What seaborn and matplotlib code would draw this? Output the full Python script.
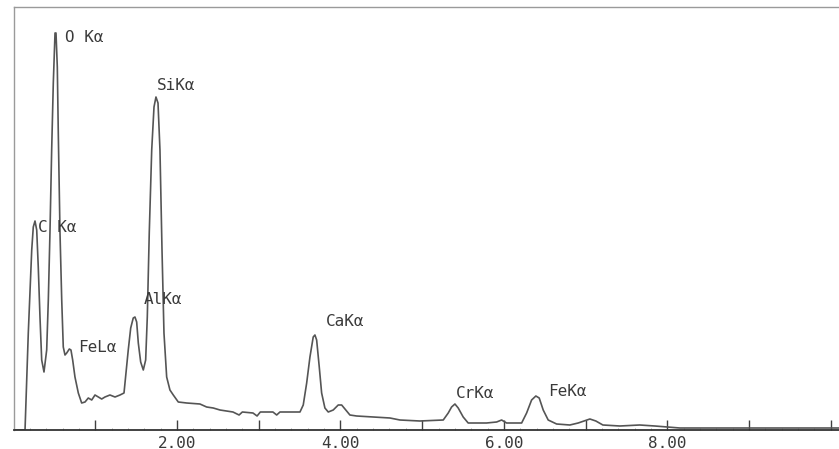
import numpy as np
import pandas as pd
import matplotlib
matplotlib.use("Agg")
import matplotlib.pyplot as plt
import seaborn as sns
from matplotlib.ticker import FixedLocator, FixedFormatter, MultipleLocator

# ---- data ----
energy_kev = [0.000, 0.104, 0.141, 0.181, 0.223, 0.242, 0.263, 0.284, 0.303, 0.324,
              0.345, 0.373, 0.406, 0.426, 0.446, 0.467, 0.487, 0.508, 0.520, 0.536,
              0.548, 0.569, 0.590, 0.609, 0.630, 0.651, 0.683, 0.703, 0.724, 0.752,
              0.793, 0.834, 0.875, 0.915, 0.957, 0.997, 1.037, 1.079, 1.119, 1.180,
              1.242, 1.303, 1.352, 1.376, 1.404, 1.434, 1.465, 1.486, 1.507, 1.527,
              1.556, 1.588, 1.617, 1.637, 1.661, 1.691, 1.719, 1.743, 1.768, 1.792,
              1.817, 1.841, 1.874, 1.914, 1.955, 2.016, 2.119, 2.281, 2.363, 2.444,
              2.526, 2.685, 2.760, 2.800, 2.930, 2.980, 3.020, 3.174, 3.220, 3.260,
              3.505, 3.545, 3.587, 3.627, 3.667, 3.688, 3.709, 3.741, 3.770, 3.810,
              3.851, 3.912, 3.973, 4.015, 4.055, 4.116, 4.198, 4.401, 4.606, 4.728,
              4.972, 5.258, 5.319, 5.360, 5.401, 5.441, 5.502, 5.563, 5.666, 5.788,
              5.911, 5.972, 6.033, 6.217, 6.278, 6.339, 6.391, 6.432, 6.481, 6.542,
              6.645, 6.807, 6.909, 7.052, 7.125, 7.211, 7.419, 7.661, 7.847, 7.994,
              8.153, 9.130, 10.100]
counts = [0, 0, 0, 97, 180, 203, 209, 200, 163, 113,
          70, 58, 80, 130, 197, 280, 347, 397, 397, 363,
          297, 197, 130, 83, 75, 77, 81, 80, 70, 53,
          37, 27, 28, 32, 30, 35, 33, 31, 33, 35,
          33, 35, 37, 57, 80, 102, 112, 113, 108, 87,
          68, 60, 70, 113, 197, 280, 323, 333, 327, 280,
          180, 97, 53, 40, 35, 28, 27, 26, 23, 22,
          20, 18, 15, 18, 17, 14, 18, 18, 15, 18,
          18, 25, 47, 73, 93, 95, 90, 63, 37, 22,
          18, 20, 25, 25, 21, 15, 14, 13, 12, 10,
          9, 10, 17, 23, 26, 22, 13, 7, 7, 7,
          8, 10, 7, 7, 17, 30, 34, 32, 20, 10,
          6, 5, 7, 11, 9, 5, 4, 5, 4, 3,
          2, 2, 2]

peak_labels = ["O Kα", "SiKα", "C Kα", "AlKα", "FeLα", "CaKα", "CrKα", "FeKα"]
label_x_kev = [0.63, 1.755, 0.30, 1.596, 0.789, 3.823, 5.413, 6.538]
label_y = [392, 345, 202, 131, 83, 108, 37, 38]

tick_values = [1, 2, 3, 4, 5, 6, 7, 8, 9, 10]
tick_labels = ["", "2.00", "", "4.00", "", "6.00", "", "8.00", "", ""]

df = pd.DataFrame({"energy": energy_kev, "counts": counts})

sns.set_style("white")
plt.rcParams["font.family"] = ["DejaVu Sans Mono", "DejaVu Sans"]

fig = plt.figure(figsize=(8.39, 4.49), dpi=100)
ax = fig.add_axes([13.5 / 839, 19 / 449, (839 - 13.5) / 839, 423 / 449])

sns.lineplot(data=df, x="energy", y="counts", ax=ax, color="#555555",
             linewidth=1.2, sort=False, estimator=None)

ax.set_xlim(0, 10.1)
ax.set_ylim(0, 423)
ax.set_xlabel("")
ax.set_ylabel("")
ax.set_yticks([])

ax.xaxis.set_major_locator(FixedLocator(tick_values))
ax.xaxis.set_major_formatter(FixedFormatter(tick_labels))
ax.xaxis.set_minor_locator(MultipleLocator(0.2))
ax.tick_params(axis="x", which="major", direction="in", length=7, width=1.0,
               color="#404040", pad=4, labelsize=11.5, labelcolor="#3a3a3a",
               bottom=True)
ax.tick_params(axis="x", which="minor", direction="in", length=1.5, width=0.6,
               color="#999999", bottom=True)

for side in ["left", "top"]:
    ax.spines[side].set_color("#9a9a9a")
    ax.spines[side].set_linewidth(1.0)
ax.spines["right"].set_visible(False)
ax.spines["bottom"].set_color("#333333")
ax.spines["bottom"].set_linewidth(1.3)

for txt, xv, yv in zip(peak_labels, label_x_kev, label_y):
    ax.text(xv, yv, txt, ha="left", va="center", fontsize=11.5,
            color="#3a3a3a")

fig.savefig("out.png", dpi=100, facecolor="white")
